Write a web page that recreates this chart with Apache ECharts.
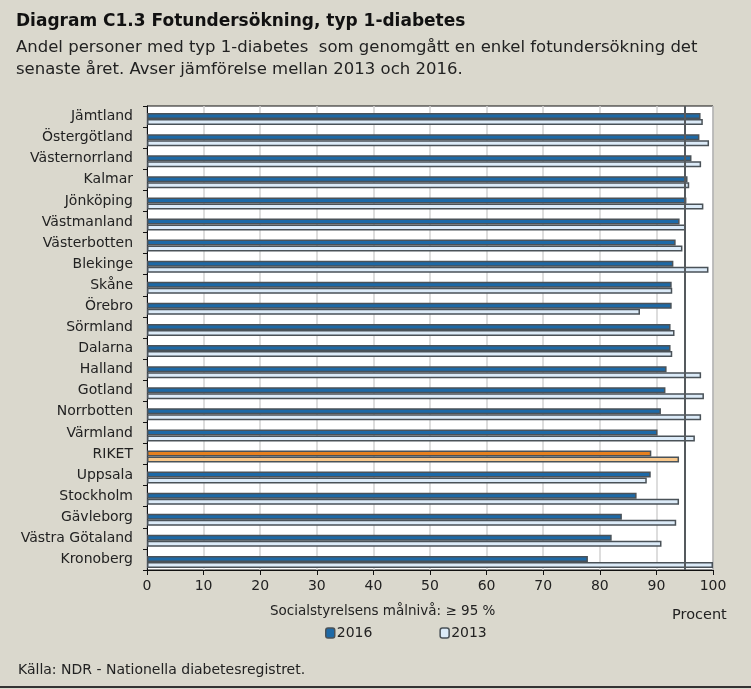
<!DOCTYPE html>
<html><head><meta charset="utf-8">
<script src="https://cdn.jsdelivr.net/npm/echarts@6/dist/echarts.min.js"></script>
<style>html,body{margin:0;padding:0;background:#dad8cd;}#c{width:751px;height:689px;}</style>
</head><body><div id="c"></div>
<script>
var categories = ['Jämtland','Östergötland','Västernorrland','Kalmar','Jönköping','Västmanland','Västerbotten','Blekinge','Skåne','Örebro','Sörmland','Dalarna','Halland','Gotland','Norrbotten','Värmland','RIKET','Uppsala','Stockholm','Gävleborg','Västra Götaland','Kronoberg'];
var v2016 = [97.8,97.6,96.2,95.5,95.3,94.1,93.4,93.0,92.7,92.7,92.5,92.5,91.8,91.6,90.8,90.2,89.1,89.0,86.5,83.9,82.1,77.9];
var v2013 = [98.2,99.3,97.9,95.8,98.3,95.2,94.6,99.2,92.8,87.1,93.2,92.8,97.9,98.4,97.9,96.8,94.0,88.3,94.0,93.5,90.9,100];
var xTicks = [0,10,20,30,40,50,60,70,80,90,100];
var target = 95;
var highlight = 'RIKET';

var FONT = 'DejaVu Sans';
function mk(vals, hiColor){
  return vals.map(function(v,i){
    if(categories[i]===highlight) return {value:v, itemStyle:{color:hiColor}};
    return v;
  });
}
var chart = echarts.init(document.getElementById('c'));
chart.setOption({
  backgroundColor:'#dad8cd',
  textStyle:{fontFamily:FONT},
  title:{
    text:'Diagram C1.3 Fotundersökning, typ 1-diabetes',
    subtext:'Andel personer med typ 1-diabetes  som genomgått en enkel fotundersökning det\nsenaste året. Avser jämförelse mellan 2013 och 2016.',
    left:11, top:8, itemGap:7,
    textStyle:{fontFamily:FONT,fontSize:17,fontWeight:'bold',color:'#111'},
    subtextStyle:{fontFamily:FONT,fontSize:16.5,color:'#222',lineHeight:22}
  },
  grid:{left:147,right:38,top:106,bottom:119,show:true,backgroundColor:'#fff',borderColor:'#111',borderWidth:1},
  legend:{
    data:['2016','2013'], left:325, top:626, itemGap:67, itemWidth:9, itemHeight:10,
    padding:0, itemStyle:{borderWidth:1.5},
    textStyle:{fontFamily:FONT,fontSize:14,color:'#222',padding:[0,0,0,-3]}
  },
  xAxis:{
    type:'value', min:0, max:100, interval:10,
    axisLine:{show:true,lineStyle:{color:'#111',width:1}},
    axisTick:{show:true,length:5,lineStyle:{color:'#111'}},
    axisLabel:{fontFamily:FONT,fontSize:14,color:'#222',margin:9,
      formatter:function(v){return xTicks.indexOf(v)>=0?String(v):'';}},
    splitLine:{show:true,lineStyle:{color:'#d2d2d2',width:1.5}}
  },
  yAxis:{
    type:'category', data:categories, inverse:true,
    axisLine:{show:true,lineStyle:{color:'#111',width:1}},
    axisTick:{show:true,length:4,lineStyle:{color:'#111'}},
    axisLabel:{fontFamily:FONT,fontSize:14,color:'#222',margin:14}
  },
  series:[
    {name:'spacer',type:'bar',data:categories.map(function(){return '-';}),barWidth:5,barGap:'0%',silent:true,
      itemStyle:{color:'rgba(0,0,0,0)'}},
    {name:'2016',type:'bar',data:mk(v2016,'#e6801e'),barWidth:6,barGap:'0%',
      itemStyle:{color:'#1d69a6',borderColor:'#4a5258',borderWidth:1.5},
      markLine:{silent:true,symbol:'none',label:{show:false},
        lineStyle:{color:'#555a5e',width:2,type:'solid'},data:[{xAxis:target}]}},
    {name:'2013',type:'bar',data:mk(v2013,'#f8c78a'),barWidth:6,barGap:'0%',
      itemStyle:{color:'#dcebf8',borderColor:'#4a5258',borderWidth:1.5}}
  ],
  graphic:[
    {type:'text',left:270,top:604,style:{text:'Socialstyrelsens målnivå: ≥ 95 %',fontFamily:FONT,fontSize:13.5,fill:'#222'}},
    {type:'text',left:672,top:608,style:{text:'Procent',fontFamily:FONT,fontSize:14.5,fill:'#222'}},
    {type:'text',left:18,top:663,style:{text:'Källa: NDR - Nationella diabetesregistret.',fontFamily:FONT,fontSize:14,fill:'#222'}},
    {type:'rect',shape:{x:0,y:686,width:751,height:2},style:{fill:'#333'}}
  ]
});
</script></body></html>
